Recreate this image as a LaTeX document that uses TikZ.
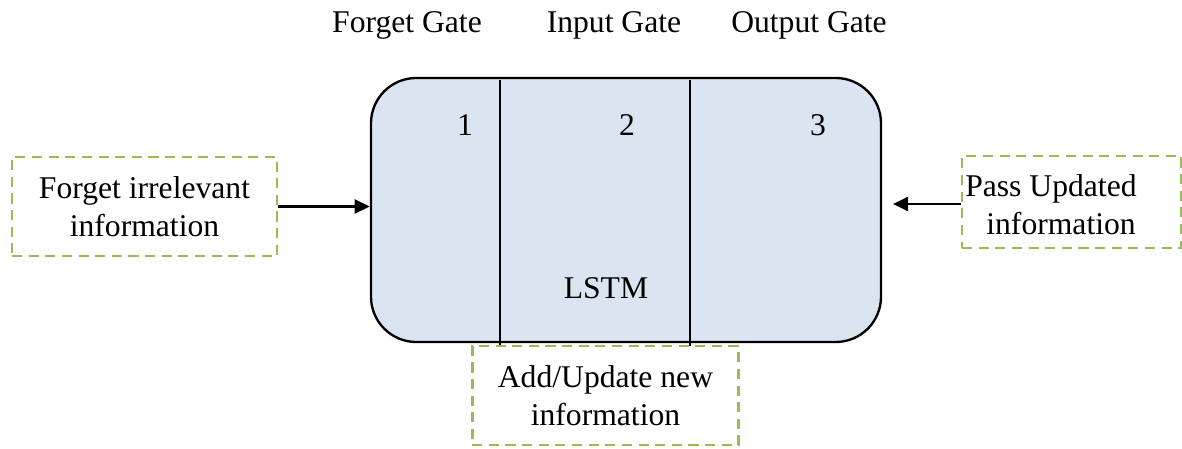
\documentclass[tikz,border=0pt]{standalone}
\usepackage{fontspec}
\setmainfont{Liberation Serif}
\usetikzlibrary{arrows.meta,positioning}

\definecolor{cellblue}{RGB}{219,229,241}
\definecolor{dashgreen}{RGB}{155,187,89}

\tikzset{
  gatebox/.style={draw=dashgreen,line width=1.25pt,dash pattern=on 4.3pt off 2.8pt,
                  fill=white,align=center,inner sep=0pt},
  celltext/.style={font=\fontsize{13.5}{16.2}\selectfont,align=center}
}

\begin{document}
\begin{tikzpicture}[x=0.015cm,y=-0.015cm,   % 1 unit = 1 px of the sketch
                    >={Triangle[length=6.5pt,width=6pt]},
                    every node/.style={celltext}]

\useasboundingbox (0,0) rectangle (1182,448);

% ---------------------------------------------------------------
% LSTM cell
\node[draw,fill=cellblue,line width=1pt,rounded corners=0.68cm,
      minimum width=7.65cm,minimum height=3.96cm] (cell) at (626,210) {};

% gate dividers
\draw[line width=1pt] (500,80) -- (500,346);
\draw[line width=1pt] (690,80) -- (690,346);

% gate numbers
\node (n1) at (465,125) {1};
\node (n2) at (627,125) {2};
\node (n3) at (818,125) {3};
\node (lstm) at (606,288) {LSTM};

% gate titles
\node (tforget) at (407,25) {Forget Gate};
\node (tinput)  at (614,25) {Input Gate};
\node (toutput) at (809,25) {Output Gate};

% ---------------------------------------------------------------
% dashed boxes
\node[gatebox,minimum width=3.975cm,minimum height=1.485cm] (forgetbox) at (144.5,206.5)
      {Forget irrelevant\\information};
\node[gatebox,minimum width=4.0cm,minimum height=1.485cm] (addbox) at (605.5,395.5)
      {Add/Update new\\information};
\node[gatebox,minimum width=3.285cm,minimum height=1.38cm] (passbox) at (1071.5,202) {};
\node[anchor=west,align=left] (passtxt) at (957,205)
      {Pass Updated\\\hspace*{9pt}information};

% ---------------------------------------------------------------
% arrows
\coordinate (passtip) at (893,204);
\draw[->,line width=1pt] (forgetbox.east) -- (forgetbox.east -| cell.west);
\draw[->,line width=1pt] (passbox.west |- passtip) -- (passtip);

\end{tikzpicture}
\end{document}
